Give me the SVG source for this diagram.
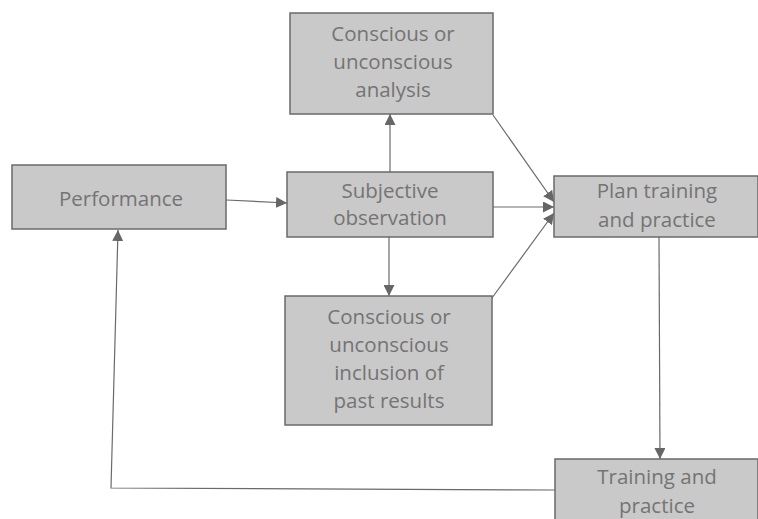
<svg xmlns="http://www.w3.org/2000/svg" width="758" height="519" viewBox="0 0 758 519">
<style>
.box{fill:#c9c9c9;stroke:#6a6a6a;stroke-width:1.5}
.t{font-family:"Open Sans","DejaVu Sans",sans-serif;font-size:20.5px;fill:#747474;text-anchor:middle}
.c{fill:none;stroke:#6a6a6a;stroke-width:1.2}
</style>
<defs>
<marker id="a" viewBox="0 0 10 10" refX="10" refY="5" markerWidth="11" markerHeight="11" markerUnits="userSpaceOnUse" orient="auto">
<path d="M0,0 L10,5 L0,10 z" fill="#666"/>
</marker>
</defs>
<rect width="758" height="519" fill="#fff"/>
<g id="connectors">
<path class="c" d="M226,200 L287,203" marker-end="url(#a)"/>
<path class="c" d="M390,172 L390,114" marker-end="url(#a)"/>
<path class="c" d="M389,237 L389,296" marker-end="url(#a)"/>
<path class="c" d="M493,207 L554,207" marker-end="url(#a)"/>
<path class="c" d="M493,115 L554,202" marker-end="url(#a)"/>
<path class="c" d="M492,298 L554,213" marker-end="url(#a)"/>
<path class="c" d="M659,237 L660,459" marker-end="url(#a)"/>
<path class="c" d="M555,490 L111,488 L118,230" marker-end="url(#a)"/>
</g>
<g id="performance">
<rect class="box" x="12" y="165" width="214" height="64"/>
<text class="t" x="121" y="206">Performance</text>
</g>
<g id="analysis">
<rect class="box" x="290" y="13" width="203" height="101"/>
<text class="t" x="393" y="41">Conscious or</text>
<text class="t" x="393" y="69">unconscious</text>
<text class="t" x="393" y="97">analysis</text>
</g>
<g id="observation">
<rect class="box" x="287" y="172" width="206" height="65"/>
<text class="t" x="390" y="198">Subjective</text>
<text class="t" x="390" y="225">observation</text>
</g>
<g id="inclusion">
<rect class="box" x="285" y="296" width="207" height="129"/>
<text class="t" x="389" y="324">Conscious or</text>
<text class="t" x="389" y="352">unconscious</text>
<text class="t" x="389" y="380">inclusion of</text>
<text class="t" x="389" y="408">past results</text>
</g>
<g id="plan">
<rect class="box" x="554" y="176" width="204" height="61"/>
<text class="t" x="657" y="198">Plan training</text>
<text class="t" x="657" y="227">and practice</text>
</g>
<g id="training">
<rect class="box" x="555" y="459" width="203" height="62"/>
<text class="t" x="657" y="484">Training and</text>
<text class="t" x="657" y="513">practice</text>
</g>
</svg>
